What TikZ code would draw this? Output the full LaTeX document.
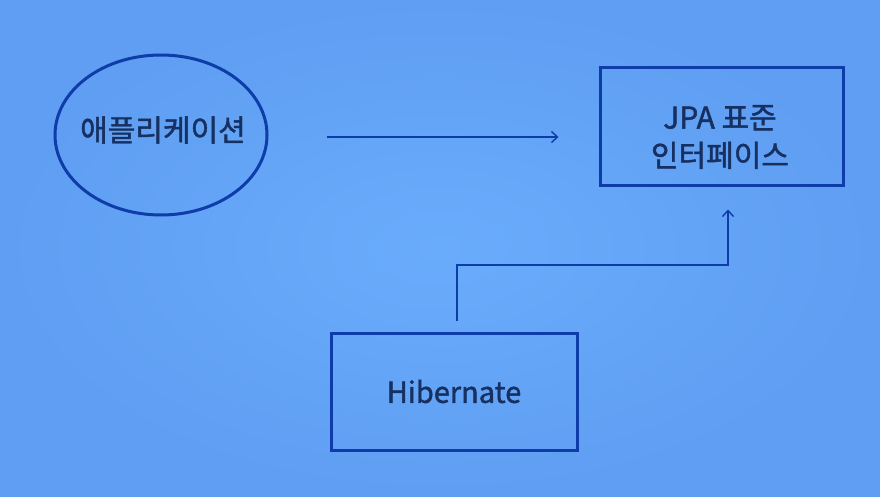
\documentclass[tikz,border=0pt]{standalone}
\usepackage{fontspec}
\setmainfont{Noto Sans CJK KR}
\newfontfamily\medfont[FakeBold=1.5]{Noto Sans CJK KR}
\usetikzlibrary{calc,arrows.meta,shapes.geometric}
\definecolor{bgin}{RGB}{106,172,252}
\definecolor{bgout}{RGB}{95,158,242}
\definecolor{linecol}{RGB}{14,60,168}
\definecolor{txtcol}{RGB}{22,48,98}
\tikzset{
  shapeline/.style={draw=linecol, line width=3pt},
  boxnode/.style={shapeline, rectangle, inner sep=0pt, text=txtcol, align=center},
  conn/.style={draw=linecol, line width=1.4pt, -{Straight Barb[length=6pt,width=11pt,line width=1.4pt]}},
  lbl/.style={font=\medfont\fontsize{29}{40}\selectfont}
}
\begin{document}
\begin{tikzpicture}[x=1pt,y=1pt]
  \useasboundingbox (0,0) rectangle (880,496);
  \shade[inner color=bgin, outer color=bgout] (0,0) rectangle (880,496);
  \node[boxnode, ellipse, minimum width=212pt, minimum height=160pt] (app) at (161,361) {};
  \node[text=txtcol, font=\medfont\fontsize{30}{40}\selectfont, anchor=center] (apptxt) at (163,366) {애플리케이션};
  \node[boxnode, minimum width=243pt, minimum height=118pt] (jpa) at (721.5,369) {};
  \node[text=txtcol, font=\medfont\fontsize{30}{38}\selectfont, align=center] (jpatxt) at (720,359) {JPA 표준\\인터페이스};
  \node[boxnode, minimum width=246pt, minimum height=117pt, lbl] (hib) at (454,104.5) {Hibernate};
  \coordinate (a1) at ($(app.east)+(58,-2)$);
  \coordinate (a2) at ($(jpa.west)+(-40,-10)$);
  \draw[conn] (a1) -- (a2);
  \coordinate (h1) at ($(hib.north)+(3,11)$);
  \coordinate (h2) at (457,231);
  \coordinate (h3) at (728,231);
  \coordinate (h4) at ($(jpa.south)+(6.5,-22)$);
  \draw[conn] (h1) -- (h2) -- (h3) -- (h4);
\end{tikzpicture}
\end{document}
